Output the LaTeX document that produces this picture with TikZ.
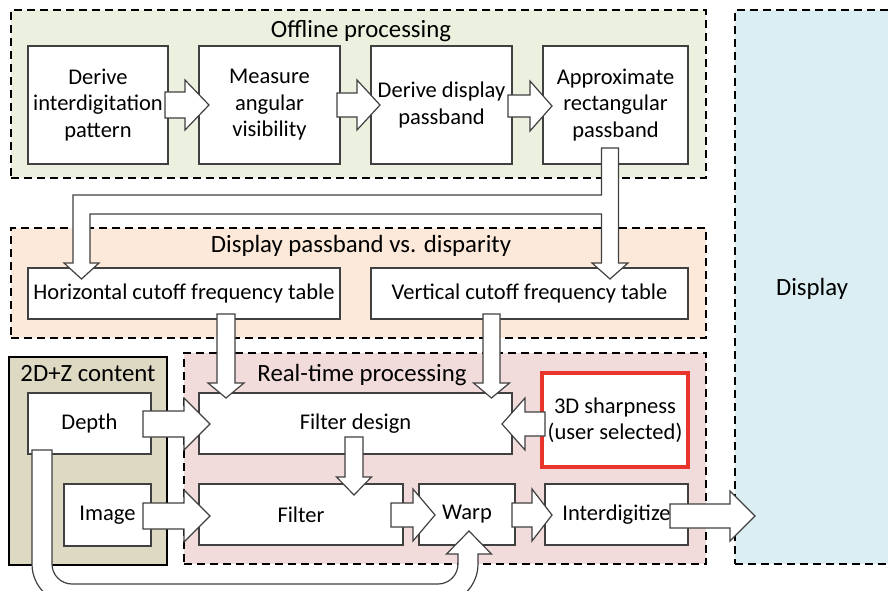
\documentclass[tikz,border=0pt]{standalone}
\usepackage{fontspec}
\setmainfont{Carlito}
\begin{document}
\begin{tikzpicture}[x=1pt,y=-1pt,
  grp/.style={draw=black, line width=2pt, dash pattern=on 8pt off 5pt, anchor=north west, inner sep=0pt, outer sep=0pt},
  box/.style={draw=black!75, fill=white, line width=1.2pt, anchor=north west, inner sep=0pt, outer sep=0pt, align=center, font=\fontsize{22.5}{26.5}\selectfont},
  ttl/.style={font=\fontsize{24.8}{28}\selectfont, inner sep=0pt},
  blk/.style={draw=black!75, fill=white, line width=1.2pt, line join=miter}]
\useasboundingbox (0,0) rectangle (888,591);
\definecolor{offg}{HTML}{EBF1DE}
\definecolor{pbo}{HTML}{FDE9D9}
\definecolor{rtp}{HTML}{F2DCDB}
\definecolor{khk}{HTML}{DDD9C3}
\definecolor{dsp}{HTML}{DBEEF4}
\definecolor{redb}{HTML}{E8342A}
\newcommand\rarr[6]{\draw[blk] (#1,#4-#5) -- (#2,#4-#5) -- (#2,#4-#6) -- (#3,#4) -- (#2,#4+#6) -- (#2,#4+#5) -- (#1,#4+#5) -- cycle;}
\newcommand\varr[6]{\draw[blk] (#4-#5,#1) -- (#4-#5,#2) -- (#4-#6,#2) -- (#4,#3) -- (#4+#6,#2) -- (#4+#5,#2) -- (#4+#5,#1) -- cycle;}
% group boxes
\node[grp, fill=offg, minimum width=695pt, minimum height=168pt] (off) at (11,10) {};
\node[grp, fill=pbo, minimum width=695pt, minimum height=110pt] (pb) at (11,228) {};
\node[grp, fill=dsp, minimum width=170pt, minimum height=554pt] (disp) at (735,10) {};
\node[draw=black, line width=2pt, fill=khk, anchor=north west, inner sep=0pt, minimum width=158pt, minimum height=208pt] (cont) at (8,356) {};
\node[grp, fill=rtp, minimum width=522pt, minimum height=211pt] (rt) at (184,353) {};
% titles
\node[ttl] (toff) at (361,31) {Offline processing};
\node[ttl] (tpb) at (361,246) {Display passband vs. disparity};
\node[ttl] (tdisp) at (812,289) {Display};
\node[ttl] (tcont) at (88,374) {2D+Z content};
\node[ttl] (trt) at (362,375) {Real-time processing};
% inner boxes
\node[box, minimum width=140pt, minimum height=118pt] (b1) at (28,46) {Derive\\interdigitation\\pattern};
\node[box, minimum width=141pt, minimum height=118pt] (b2) at (199,46) {Measure\\angular\\visibility};
\node[box, minimum width=141pt, minimum height=118pt] (b3) at (371,46) {Derive display\\passband};
\node[box, minimum width=145pt, minimum height=118pt] (b4) at (543,46) {Approximate\\rectangular\\passband};
\node[box, minimum width=312pt, minimum height=51pt] (ht) at (28,268) {Horizontal cutoff frequency table};
\node[box, minimum width=317pt, minimum height=51pt] (vt) at (371,268) {Vertical cutoff frequency table};
\node[box, minimum width=123pt, minimum height=61pt] (depth) at (28,393) {Depth};
\node[box, minimum width=87pt, minimum height=62pt] (img) at (64,484) {Image};
\node[box, minimum width=313pt, minimum height=61pt] (fd) at (199,393) {Filter design};
\node[box, minimum width=204pt, minimum height=61pt] (flt) at (199,484) {Filter};
\node[box, minimum width=96pt, minimum height=61pt] (warp) at (419,484) {Warp};
\node[box, minimum width=143pt, minimum height=61pt] (intd) at (545,484) {Interdigitize};
\node[box, draw=redb, line width=3.2pt, minimum width=146pt, minimum height=94pt] (sharp) at (542,373) {3D sharpness\\(user selected)};
% offline arrows
\rarr{165}{185}{209}{105}{13}{25}
\rarr{337}{357}{380}{105}{12}{25}
\rarr{508}{530}{552}{106}{11}{25}
% split arrow from approximate passband
\draw[blk] (601.5,148) -- (618.5,148) -- (618.5,263) -- (628,263) -- (610,279) -- (592,263) -- (601.5,263) -- (601.5,214) -- (90,214) -- (90,263) -- (99,263) -- (81.5,279) -- (64,263) -- (73,263) -- (73,195) -- (601.5,195) -- cycle;
% cutoff tables to filter design
\varr{314}{383}{398}{226}{9}{18}
\varr{314}{383}{398}{491.5}{8.5}{18}
% inputs
\rarr{143}{184}{210}{424}{13}{26}
\rarr{143}{184}{210}{516}{13}{26}
\rarr{545}{525}{502}{424}{12}{26}
\varr{437}{477}{495}{354}{9}{17.5}
\rarr{391}{413}{435}{515}{12}{26}
\rarr{512}{532}{552}{515}{12}{26}
\rarr{670}{730}{755}{516}{12}{25}
% depth to warp U arrow
\draw[blk] (32,450) -- (32,564) arc[start angle=180, end angle=270, x radius=40, y radius=-40] -- (438,604) arc[start angle=270, end angle=360, x radius=40, y radius=-40] -- (478,554) -- (491.5,554) -- (469,531) -- (446.5,554) -- (458,554) -- (458,564) arc[start angle=0, end angle=90, x radius=20, y radius=20] -- (72,584) arc[start angle=90, end angle=180, x radius=20, y radius=20] -- (52,450) -- cycle;
\end{tikzpicture}
\end{document}
